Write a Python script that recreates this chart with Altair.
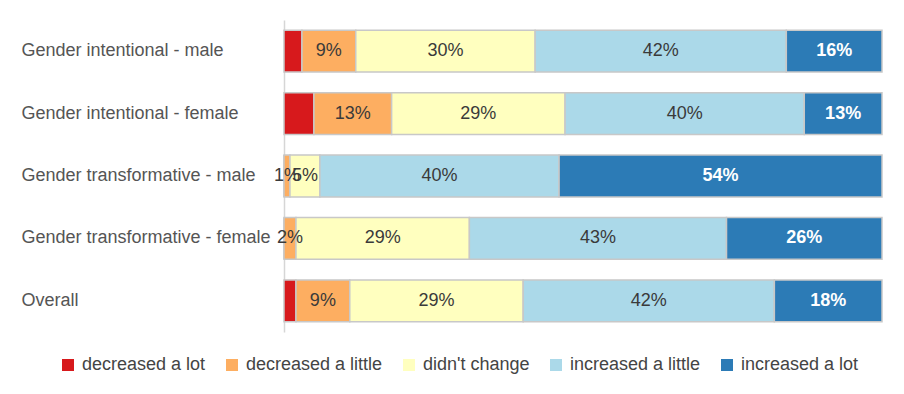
import altair as alt
import pandas as pd

groups = [
    "Gender intentional - male",
    "Gender intentional - female",
    "Gender transformative - male",
    "Gender transformative - female",
    "Overall",
]
categories = ["decreased a lot", "decreased a little", "didn't change",
              "increased a little", "increased a lot"]
colors = ["#d7191c", "#fdae61", "#ffffbf", "#abd9e9", "#2c7bb6"]

decreased_lot = [3, 5, 0, 0, 2]
decreased_little = [9, 13, 1, 2, 9]
didnt_change = [30, 29, 5, 29, 29]
increased_little = [42, 40, 40, 43, 42]
increased_lot = [16, 13, 54, 26, 18]

series = [decreased_lot, decreased_little, didnt_change, increased_little, increased_lot]

rows = []
for gi, g in enumerate(groups):
    for ci, c in enumerate(categories):
        rows.append({"group": g, "category": c, "order": ci, "value": series[ci][gi]})
df = pd.DataFrame(rows)

FONT = "Liberation Sans"

base = alt.Chart(df).transform_stack(
    stack="value", groupby=["group"], as_=["x0", "x1"],
    sort=[alt.SortField("order", order="ascending")]
).transform_calculate(
    mid="(datum.x0 + datum.x1) / 2",
    label="datum.value + '%'"
)

xscale = alt.Scale(domain=[0, 100], nice=False, zero=True)
yenc = alt.Y(
    "group:N", sort=groups, title=None,
    scale=alt.Scale(paddingInner=0.33, paddingOuter=0.165),
    axis=alt.Axis(labelAlign="left", labelPadding=263, ticks=False,
                  domainColor="#d6d6d6", domainWidth=1.5,
                  labelFontSize=18, labelFont=FONT, labelColor="#555555",
                  labelLimit=320, grid=False),
)

bars = base.mark_bar(stroke="#c8c8c8", strokeWidth=1.5).encode(
    x=alt.X("x0:Q", scale=xscale, axis=None),
    x2="x1:Q",
    y=yenc,
    color=alt.Color(
        "category:N", sort=categories,
        scale=alt.Scale(domain=categories, range=colors),
        legend=alt.Legend(
            title=None, orient="none", legendX=-225, legendY=336,
            direction="horizontal", symbolType="square", symbolSize=144,
            symbolStrokeWidth=0, labelFontSize=18, labelFont=FONT,
            labelColor="#444444", columnPadding=17, labelOffset=5,
            labelLimit=300,
        ),
    ),
)

light_text = base.transform_filter(
    "datum.order >= 1 && datum.order <= 3 && datum.value > 0"
).mark_text(font=FONT, fontSize=18, color="#3a3a3a").encode(
    x=alt.X("mid:Q", scale=xscale, axis=None),
    y=alt.Y("group:N", sort=groups),
    text="label:N",
)

dark_text = base.transform_filter(
    "datum.order == 4 && datum.value > 0"
).mark_text(font=FONT, fontSize=18, fontWeight="bold", color="white").encode(
    x=alt.X("mid:Q", scale=xscale, axis=None),
    y=alt.Y("group:N", sort=groups),
    text="label:N",
)

chart = alt.layer(bars, light_text, dark_text).properties(
    width=598, height=312,
    padding={"left": 13, "top": 12, "right": 5, "bottom": 5},
).configure_view(stroke=None)

chart.save("out.html", embed_options={"renderer": "svg", "actions": False})
